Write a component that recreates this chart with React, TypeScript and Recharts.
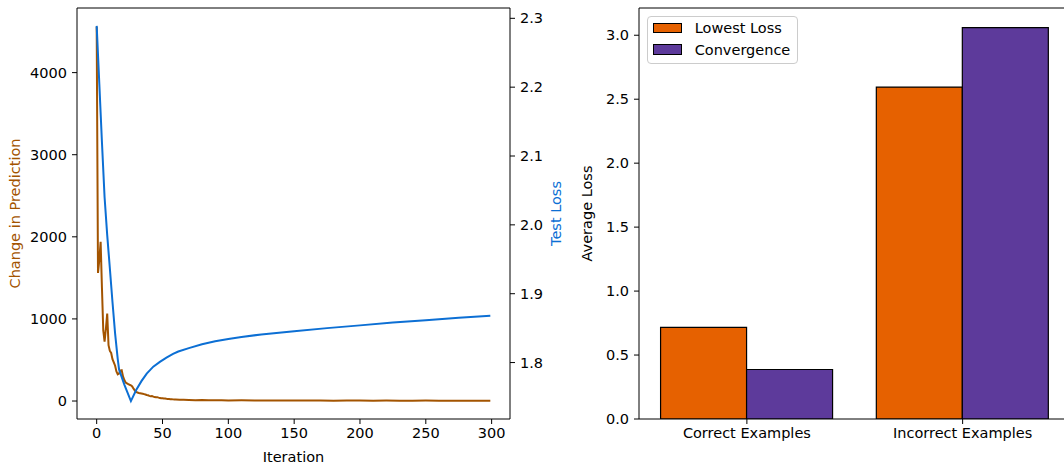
import React from 'react';
import {
  LineChart,
  Line,
  XAxis,
  YAxis,
  ReferenceLine,
  BarChart,
  Bar,
  Legend,
} from 'recharts';

const FONT = '"DejaVu Sans", "Liberation Sans", sans-serif';
const FS = 14.5;
const BROWN = '#a35400';
const BLUE = '#0c6fd4';
const ORANGE = '#e66100';
const PURPLE = '#5d3a9b';

// ---- Left panel data ----
const changeIters = [
  0, 1, 2, 3, 4, 5, 6, 7, 8, 9, 10, 11, 12, 13, 14, 15, 16, 17, 18, 19, 20,
  21, 22, 23, 24, 25, 26, 27, 28, 29, 30, 31, 32, 33, 34, 35, 36, 37, 38, 39, 40,
  41, 42, 43, 44, 45, 46, 47, 48, 49, 50, 51, 52, 53, 54, 55, 56, 57, 58, 59, 60,
  63, 66, 70, 75, 80, 85, 90, 95, 100, 110, 120, 130, 140, 150, 160, 170, 180,
  190, 200, 210, 220, 230, 240, 250, 260, 270, 280, 290, 299,
];
const changeValues = [
  4560, 1560, 1720, 1940, 1380, 860, 722, 880, 1065, 680, 610, 585, 510, 470, 430, 360, 325, 335, 370, 375, 300,
  255, 225, 215, 205, 198, 192, 178, 150, 128, 112, 104, 98, 95, 92, 88, 84, 80, 74, 70, 62,
  58, 60, 54, 48, 45, 47, 41, 38, 35, 33, 30, 31, 27, 25, 24, 22, 23, 20, 18, 19,
  16, 14, 12, 10, 11, 9, 8, 10, 7, 8, 6, 7, 5, 6, 5, 7, 4,
  5, 6, 4, 5, 3, 4, 5, 3, 4, 3, 4, 3,
];
const lossIters = [
  0, 2, 4, 6, 8, 10, 12, 14, 16, 17, 21, 26, 30, 34, 38, 43, 48, 53, 58, 62, 70, 80, 90, 100,
  110, 125, 150, 175, 200, 225, 250, 275, 299,
];
const lossValues = [
  2.289, 2.205, 2.12, 2.04, 1.985, 1.937, 1.888, 1.842, 1.805, 1.79, 1.768, 1.744, 1.76, 1.773, 1.784, 1.794, 1.801, 1.807, 1.8125, 1.816, 1.821, 1.8265, 1.8308, 1.8343,
  1.8372, 1.8408, 1.8455, 1.85, 1.854, 1.858, 1.8615, 1.865, 1.868,
];
const iterTicks = [0, 50, 100, 150, 200, 250, 300];
const changeTicks = [0, 1000, 2000, 3000, 4000];
const lossTicks = [1.8, 1.9, 2.0, 2.1, 2.2, 2.3];

// ---- Right panel data ----
const categories = ['Correct Examples', 'Incorrect Examples'];
const seriesNames = ['Lowest Loss', 'Convergence'];
const lowestLoss = [0.717, 2.595];
const convergence = [0.387, 3.059];
const avgLossTicks = [0, 0.5, 1.0, 1.5, 2.0, 2.5, 3.0];

const changeData = changeIters.map((x, i) => ({ x, v: changeValues[i] }));
const lossData = lossIters.map((x, i) => ({ x, v: lossValues[i] }));
const barData = categories.map((c, i) => ({
  category: c,
  lowest: lowestLoss[i],
  convergence: convergence[i],
}));

const tickStyle = { fill: '#000', fontSize: FS, fontFamily: FONT };

const xLabel = (text: string) => (props: any) => {
  const vb = props.viewBox || {};
  return (
    <text
      x={vb.x + vb.width / 2}
      y={vb.y + 43}
      textAnchor="middle"
      fill="#000"
      fontSize={FS}
      fontFamily={FONT}
    >
      {text}
    </text>
  );
};

const yLabel = (text: string, dx: number, color: string) => (props: any) => {
  const vb = props.viewBox || {};
  const cx = vb.x + dx;
  const cy = vb.y + vb.height / 2;
  return (
    <text
      x={cx}
      y={cy}
      transform={`rotate(-90, ${cx}, ${cy})`}
      textAnchor="middle"
      dominantBaseline="central"
      fill={color}
      fontSize={FS}
      fontFamily={FONT}
    >
      {text}
    </text>
  );
};

const renderLegend = (props: any) => {
  const payload = [...(props.payload || [])].sort(
    (a: any, b: any) => seriesNames.indexOf(a.value) - seriesNames.indexOf(b.value)
  );
  return (
    <div
      style={{
        position: 'relative',
        width: 151,
        height: 48,
        boxSizing: 'border-box',
        border: '1px solid #cccccc',
        borderRadius: 4,
        background: 'rgba(255,255,255,0.8)',
        fontFamily: FONT,
        fontSize: FS,
        color: '#000',
      }}
    >
      {payload.map((p: any, i: number) => (
        <React.Fragment key={p.value}>
          <div
            style={{
              position: 'absolute',
              left: 5,
              top: 6 + i * 21.8,
              width: 29,
              height: 10.5,
              boxSizing: 'border-box',
              background: p.color,
              border: '1.2px solid #000',
            }}
          />
          <div
            style={{
              position: 'absolute',
              left: 47,
              top: 3.5 + i * 21.8,
              lineHeight: '16px',
              whiteSpace: 'nowrap',
            }}
          >
            {p.value}
          </div>
        </React.Fragment>
      ))}
    </div>
  );
};

export default function App() {
  return (
    <div
      style={{
        position: 'absolute',
        left: 0,
        top: 0,
        width: 1064,
        height: 464,
        overflow: 'hidden',
        background: '#fff',
      }}
    >
      <div style={{ position: 'absolute', left: 0, top: 0 }}>
        <LineChart width={580} height={464} margin={{ top: 8, right: 0, bottom: 0, left: 0 }}>
          <XAxis
            type="number"
            dataKey="x"
            domain={[-14.95, 313.95]}
            ticks={iterTicks}
            allowDataOverflow
            height={45}
            tickSize={5}
            tickMargin={4}
            stroke="#000"
            tick={tickStyle}
            label={xLabel('Iteration')}
          />
          <YAxis
            yAxisId="left"
            orientation="left"
            width={77}
            domain={[-219, 4787]}
            ticks={changeTicks}
            allowDataOverflow
            tickSize={5}
            tickMargin={5}
            stroke="#000"
            tick={tickStyle}
            label={yLabel('Change in Prediction', 15, BROWN)}
          />
          <YAxis
            yAxisId="right"
            orientation="right"
            width={70}
            domain={[1.718, 2.315]}
            ticks={lossTicks}
            allowDataOverflow
            tickFormatter={(v: number) => v.toFixed(1)}
            tickSize={5}
            tickMargin={5}
            stroke="#000"
            tick={tickStyle}
            label={yLabel('Test Loss', 46, BLUE)}
          />
          <ReferenceLine yAxisId="left" y={4787} stroke="#000" strokeWidth={1} />
          <Line
            yAxisId="left"
            data={changeData}
            dataKey="v"
            type="linear"
            stroke={BROWN}
            strokeWidth={2}
            dot={false}
            isAnimationActive={false}
          />
          <Line
            yAxisId="right"
            data={lossData}
            dataKey="v"
            type="linear"
            stroke={BLUE}
            strokeWidth={2}
            dot={false}
            isAnimationActive={false}
          />
        </LineChart>
      </div>
      <div style={{ position: 'absolute', left: 560, top: 0 }}>
        <BarChart
          width={520}
          height={464}
          data={barData}
          margin={{ top: 8, right: 9.5, bottom: 0, left: 0 }}
          barCategoryGap="10%"
          barGap={0}
        >
          <XAxis
            dataKey="category"
            height={45}
            tickSize={5}
            tickMargin={4}
            stroke="#000"
            tick={tickStyle}
          />
          <YAxis
            width={79}
            domain={[0, 3.213]}
            ticks={avgLossTicks}
            allowDataOverflow
            tickFormatter={(v: number) => v.toFixed(1)}
            tickSize={5}
            tickMargin={5}
            stroke="#000"
            tick={tickStyle}
            label={yLabel('Average Loss', 27, '#000')}
          />
          <ReferenceLine y={3.213} stroke="#000" strokeWidth={1} />
          <Legend
            layout="vertical"
            align="center"
            verticalAlign="middle"
            content={renderLegend}
            wrapperStyle={{ left: 86.7, top: 15.7, width: 151, height: 48 }}
          />
          <Bar
            dataKey="lowest"
            name={seriesNames[0]}
            fill={ORANGE}
            stroke="#000"
            strokeWidth={1.2}
            isAnimationActive={false}
          />
          <Bar
            dataKey="convergence"
            name={seriesNames[1]}
            fill={PURPLE}
            stroke="#000"
            strokeWidth={1.2}
            isAnimationActive={false}
          />
        </BarChart>
      </div>
    </div>
  );
}
